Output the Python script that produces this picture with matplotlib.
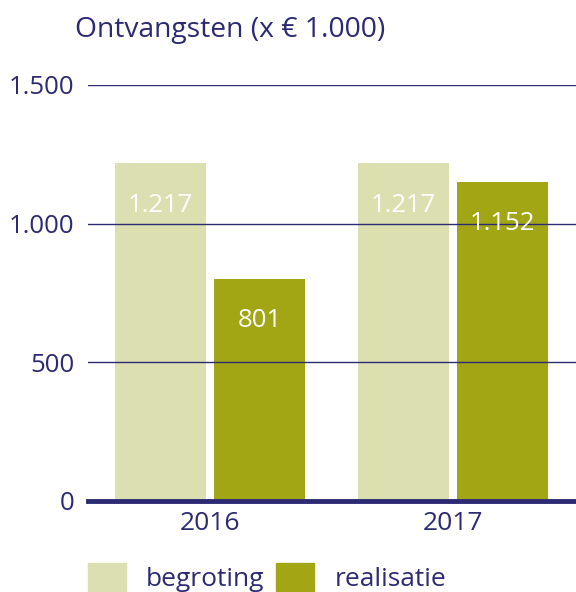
import matplotlib
matplotlib.use("Agg")
import matplotlib.pyplot as plt
from matplotlib.patches import Patch

years = ["2016", "2017"]
begroting = [1217, 1217]
realisatie = [801, 1152]
labels_begroting = ["1.217", "1.217"]
labels_realisatie = ["801", "1.152"]
yticks = [0, 500, 1000, 1500]
ytick_labels = ["0", "500", "1.000", "1.500"]

navy = "#2b2a73"
light = "#dcdfb0"
olive = "#a3a614"
font = "Open Sans"

plt.rcParams['font.family'] = [font, 'DejaVu Sans']

fig = plt.figure(figsize=(5.76, 5.92), dpi=100)
ax = fig.add_axes([88/576, 91/592, 1 - 88/576, (501-85)/592])

w = 91/243
off = 99/2/243
xs = list(range(len(years)))
ax.bar([x - off for x in xs], begroting, width=w, color=light, zorder=1)
ax.bar([x + off for x in xs], realisatie, width=w, color=olive, zorder=1)

for x, v, l in zip(xs, begroting, labels_begroting):
    ax.annotate(l, (x - off, v), xytext=(0, -42), textcoords='offset pixels',
                ha='center', va='center', color='white', fontsize=18.5, zorder=3)
for x, v, l in zip(xs, realisatie, labels_realisatie):
    ax.annotate(l, (x + off, v), xytext=(0, -42), textcoords='offset pixels',
                ha='center', va='center', color='white', fontsize=18.5, zorder=3)

ax.set_xlim(-122/243, 366/243)
ax.set_ylim(0, 1500)
ax.set_yticks(yticks)
ax.set_yticklabels(ytick_labels)
ax.set_xticks(xs)
ax.set_xticklabels(years)
ax.tick_params(axis='both', length=0, labelcolor=navy)
ax.tick_params(axis='y', pad=10, labelsize=18.5)
ax.tick_params(axis='x', pad=7, labelsize=19)
for s in ax.spines.values():
    s.set_visible(False)
ax.grid(axis='y', color=navy, linewidth=1.0, zorder=2)
ax.set_axisbelow(False)
ax.axhline(0, color=navy, linewidth=3.5, zorder=4, clip_on=False)
ax.patch.set_alpha(0)

fig.text(75/576, 1 - 30/592, "Ontvangsten (x € 1.000)", color=navy, fontsize=20.3,
         ha='left', va='center')

handles = [Patch(color=light, label="begroting"), Patch(color=olive, label="realisatie")]
fig.legend(handles=handles, loc='lower left', bbox_to_anchor=(88/576, 0.0),
           ncol=2, frameon=False, fontsize=19, labelcolor=navy,
           handlelength=1.44, handleheight=1.29, handletextpad=0.76,
           columnspacing=0.45, borderpad=0, borderaxespad=0)

fig.savefig("out.png", dpi=100)
